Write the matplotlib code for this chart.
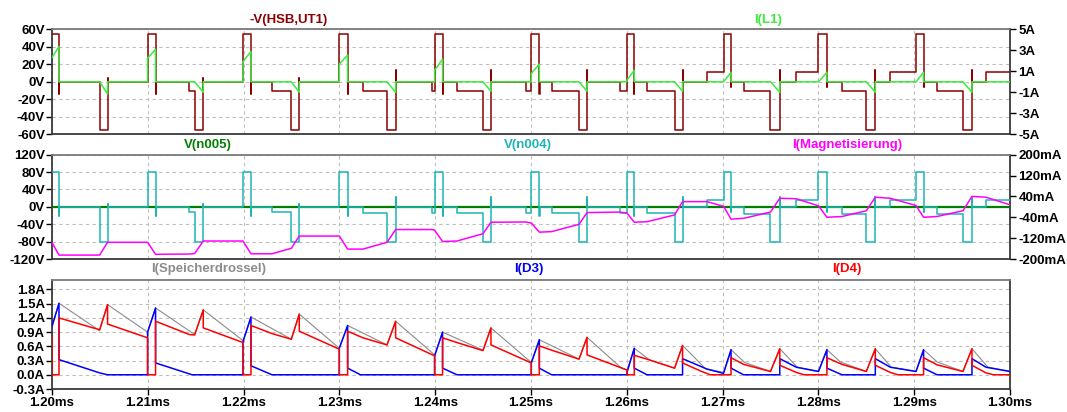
import numpy as np
import matplotlib
matplotlib.use("Agg")
import matplotlib.pyplot as plt

plt.rcParams.update({
    "font.family": ["Liberation Sans", "DejaVu Sans"],
    "font.weight": "bold",
    "font.size": 9.5,
    "axes.unicode_minus": False,
})

# ---------------------------------------------------------------- data
# times in microseconds after 1.20 ms
# switching edges shared by -V(HSB,UT1) and V(n004) (step traces)
sw_t = [0.00, 0.73, 0.75, 4.97, 5.80, 5.82,
        9.98, 10.81, 10.83, 14.33, 14.89, 15.79, 15.81,
        19.94, 20.77, 20.79, 22.96, 24.98, 25.81, 25.83,
        29.99, 30.86, 30.88, 32.46, 34.97, 35.87, 35.89,
        39.67, 39.94, 40.77, 40.79, 42.28, 44.99, 45.82, 45.84,
        49.44, 50.03, 50.87, 50.89, 52.15, 55.01, 55.85, 55.87,
        59.25, 60.02, 60.78, 60.80, 62.11, 64.99, 65.82, 65.84,
        68.37, 70.10, 70.88, 70.90, 72.19, 75.00, 75.97, 75.99,
        77.69, 80.01, 80.89, 80.91, 82.46, 85.00, 85.94, 85.96,
        87.50, 90.19, 90.98, 91.00, 92.38, 95.09, 96.03, 96.05,
        97.49, 100.0]
hsb_v = [55, -14, 0, -55, 4, 0,
         55, -14, 0, -10, -55, 4, 0,
         55, -14, 0, -10, -55, 4, 0,
         55, -14, 0, -10, -55, 13, 0,
         -10, 55, -14, 0, -10, -55, 13, 0,
         -10, 55, -14, 0, -10, -55, 13, 0,
         -10, 55, -14, 0, -10, -55, 13, 0,
         11, 55, -6, 0, -11, -55, 13, 0,
         11, 55, -6, 0, -11, -55, 13, 0,
         11, 55, -6, 0, -11, -55, 13, 0,
         11, 11]
n004_v = [80, -22, 0, -80, 6, 0,
          80, -22, 0, -12, -80, 6, 0,
          80, -22, 0, -12, -80, 6, 0,
          80, -22, 0, -14, -80, 22, 0,
          -14, 80, -22, 0, -15, -80, 22, 0,
          -15, 80, -22, 0, -15, -80, 22, 0,
          -15, 80, -22, 0, -15, -80, 22, 0,
          16, 80, -11, 0, -16, -80, 23, 0,
          16, 80, -11, 0, -16, -80, 23, 0,
          16, 80, -11, 0, -16, -80, 23, 0,
          16, 16]

n005 = [(0, 0.0), (100, 0.0)]

il1 = [(0, 2.3), (0.73, 3.36), (0.73, 0), (4.97, 0), (5.80, -1.17), (5.80, 0),
       (9.98, 0), (9.98, 2.25), (10.81, 3.1), (10.81, 0), (14.89, 0), (15.79, -1.0), (15.79, 0),
       (19.94, 0), (19.94, 1.93), (20.77, 2.89), (20.77, 0), (24.98, 0), (25.81, -1.0), (25.81, 0),
       (29.99, 0), (29.99, 1.69), (30.86, 2.54), (30.86, 0), (34.97, 0), (35.87, -1.0), (35.87, 0),
       (39.94, 0), (39.94, 1.1), (40.77, 2.15), (40.77, 0), (44.99, 0), (45.82, -0.9), (45.82, 0),
       (50.03, 0), (50.03, 0.8), (50.87, 1.69), (50.87, 0), (55.01, 0), (55.85, -0.9), (55.85, 0),
       (60.02, 0), (60.02, 0.16), (60.78, 1.1), (60.78, 0), (64.99, 0), (65.82, -0.9), (65.82, 0),
       (70.10, 0), (70.88, 0.9), (70.88, 0), (75.00, 0), (75.97, -1.0), (75.97, 0),
       (80.01, 0), (80.89, 0.9), (80.89, 0), (85.00, 0), (85.94, -1.0), (85.94, 0),
       (90.19, 0), (90.98, 0.9), (90.98, 0), (95.09, 0), (96.03, -1.0), (96.03, 0),
       (100, 0)]

# I(Magnetisierung) in mA
mag = [(0, -137), (0.73, -185), (4.97, -185), (5.80, -136),
       (9.98, -136), (10.81, -182), (14.33, -181), (14.89, -179), (15.79, -131),
       (19.94, -131), (20.77, -180), (22.96, -180), (24.98, -159), (25.81, -112),
       (29.99, -112), (30.86, -162), (32.46, -162), (34.97, -136), (35.87, -87),
       (39.67, -87), (39.94, -90), (40.77, -133), (42.28, -131), (44.99, -103), (45.82, -59),
       (49.44, -58), (50.03, -62), (50.87, -97), (52.15, -95), (55.01, -67), (55.85, -22),
       (59.25, -20), (60.02, -24), (60.78, -59), (62.11, -57), (64.99, -31), (65.82, 20),
       (68.37, 20), (70.10, 2), (70.88, -47), (72.19, -44), (75.00, -20), (75.97, 33),
       (77.69, 31), (80.01, 4), (80.89, -40), (82.46, -37), (85.00, -15), (85.94, 37),
       (87.50, 33), (90.19, 5), (90.98, -40), (92.38, -37), (95.09, -15), (96.03, 40),
       (97.49, 37), (100, 8)]

speicher = [(0, 1.02), (0.73, 1.51), (4.97, 0.93), (5.80, 1.48), (9.98, 0.90),
            (10.81, 1.41), (14.89, 0.85), (15.79, 1.37), (19.94, 0.72),
            (20.77, 1.22), (24.98, 0.75), (25.81, 1.28), (29.99, 0.56),
            (30.86, 1.04), (34.97, 0.63), (35.87, 1.13), (39.94, 0.42),
            (40.77, 0.90), (44.99, 0.52), (45.82, 0.99), (50.03, 0.26),
            (50.87, 0.74), (55.01, 0.33), (55.85, 0.79), (59.40, 0.15), (60.02, 0.10),
            (60.78, 0.56), (62.40, 0.31), (64.99, 0.14), (65.82, 0.62), (68.20, 0.13),
            (70.10, 0.05), (70.88, 0.53), (72.30, 0.26), (75.00, 0.07), (75.97, 0.55),
            (77.80, 0.16), (80.01, 0.07), (80.89, 0.53), (82.30, 0.27), (85.00, 0.07),
            (85.94, 0.55), (87.60, 0.16), (90.19, 0.07), (90.98, 0.53), (92.40, 0.27),
            (95.09, 0.07), (96.03, 0.55), (97.70, 0.16), (100, 0.07)]

d3 = [(0, 1.02), (0.73, 1.51), (0.73, 0.32), (4.97, 0.04), (5.80, 0.0), (9.98, 0.0),
      (9.98, 0.90), (10.81, 1.41), (10.81, 0.25), (14.33, 0.02), (14.6, 0.0), (19.94, 0.0),
      (19.94, 0.70), (20.77, 1.22), (20.77, 0.19), (22.96, 0.0), (29.99, 0.0),
      (29.99, 0.56), (30.86, 1.04), (30.86, 0.14), (32.2, 0.0), (39.94, 0.0),
      (39.94, 0.40), (40.77, 0.90), (40.77, 0.14), (42.28, 0.0), (50.03, 0.0),
      (50.03, 0.25), (50.87, 0.74), (50.87, 0.14), (52.15, 0.0), (60.02, 0.0),
      (60.02, 0.05), (60.78, 0.56), (60.78, 0.14), (62.11, 0.0), (65.82, 0.0),
      (65.82, 0.34), (68.37, 0.12), (70.10, 0.03), (70.88, 0.53), (70.88, 0.14),
      (72.19, 0.0), (75.97, 0.0),
      (75.97, 0.34), (77.69, 0.16), (80.01, 0.07), (80.89, 0.53), (80.89, 0.14),
      (82.46, 0.0), (85.94, 0.0),
      (85.94, 0.34), (87.50, 0.16), (90.19, 0.07), (90.98, 0.53), (90.98, 0.14),
      (92.38, 0.0), (96.03, 0.0),
      (96.03, 0.34), (97.49, 0.16), (100, 0.07)]

d4 = [(0, 0.80), (0, 0.0), (0.73, 0.0), (0.73, 1.20), (4.97, 0.95), (5.80, 1.48),
      (5.80, 1.07), (9.98, 0.78), (9.98, 0.0),
      (10.81, 0.0), (10.81, 1.13), (14.33, 0.85), (14.89, 0.84), (15.79, 1.37),
      (15.79, 0.99), (19.94, 0.68), (19.94, 0.0),
      (20.77, 0.0), (20.77, 1.04), (22.96, 0.87), (24.98, 0.75), (25.81, 1.28),
      (25.81, 0.92), (29.99, 0.54), (29.99, 0.0),
      (30.86, 0.0), (30.86, 0.92), (32.46, 0.78), (34.97, 0.63), (35.87, 1.13),
      (35.87, 0.78), (39.94, 0.40), (39.94, 0.0),
      (40.77, 0.0), (40.77, 0.78), (42.28, 0.68), (44.99, 0.51), (45.82, 0.99),
      (45.82, 0.63), (50.03, 0.25), (50.03, 0.0),
      (50.87, 0.0), (50.87, 0.61), (52.15, 0.52), (55.01, 0.33), (55.85, 0.79),
      (55.85, 0.42), (60.02, 0.10), (60.02, 0.0),
      (60.78, 0.0), (60.78, 0.41), (62.11, 0.33), (64.99, 0.14), (65.82, 0.62),
      (65.82, 0.25), (67.7, 0.08), (68.7, 0.0),
      (70.88, 0.0), (70.88, 0.36), (72.19, 0.22), (75.00, 0.07), (75.97, 0.55),
      (75.97, 0.20), (77.69, 0.05), (78.5, 0.0),
      (80.89, 0.0), (80.89, 0.36), (82.46, 0.22), (85.00, 0.07), (85.94, 0.55),
      (85.94, 0.20), (87.50, 0.05), (88.3, 0.0),
      (90.98, 0.0), (90.98, 0.36), (92.38, 0.21), (95.09, 0.07), (96.03, 0.55),
      (96.03, 0.20), (97.49, 0.04), (98.3, 0.0),
      (100, 0.0)]

x_ticks = [1.20, 1.21, 1.22, 1.23, 1.24, 1.25, 1.26, 1.27, 1.28, 1.29, 1.30]
p1_left = [-60, -40, -20, 0, 20, 40, 60]
p1_right = [-5, -3, -1, 1, 3, 5]
p2_left = [-120, -80, -40, 0, 40, 80, 120]
p2_right = [-200, -120, -40, 40, 120, 200]
p3_left = [-0.3, 0.0, 0.3, 0.6, 0.9, 1.2, 1.5, 1.8]

C_HSB, C_L1 = "#8B0000", "#3DEB3D"
C_N005, C_N004, C_MAG = "#008000", "#1EB4B4", "#FF00FF"
C_SP, C_D3, C_D4 = "#8C8C8C", "#0000FF", "#FF0000"


def xy(pairs):
    a = np.array(pairs, dtype=float)
    return 1.2 + a[:, 0] / 1000.0, a[:, 1]


W, H = 1067, 412
fig = plt.figure(figsize=(W / 100, H / 100), dpi=100)
L, Wd = 52 / W, 958 / W
ax1 = fig.add_axes([L, 1 - 134.3 / H, Wd, 105 / H])
ax2 = fig.add_axes([L, 1 - 259 / H, Wd, 104.3 / H])
ax3 = fig.add_axes([L, 1 - 389 / H, Wd, 109 / H])


def style(ax, show_x):
    ax.set_xlim(1.20, 1.30)
    ax.set_xticks(x_ticks)
    ax.grid(True, color="#BDBDBD", ls=(0, (3, 3)), lw=0.8)
    ax.set_axisbelow(True)
    for s in ax.spines.values():
        s.set_color("#3A3A3A")
        s.set_linewidth(1.3)
    ax.spines["top"].set_color("#7A7A7A")
    ax.tick_params(axis="y", direction="out", length=4, width=1, pad=1,
                   labelsize=9.5)
    if show_x:
        ax.set_xticklabels([f"{v:.2f}ms" for v in x_ticks])
        ax.tick_params(axis="x", direction="out", length=4, width=1, pad=2,
                       labelsize=9.5)
    else:
        ax.tick_params(axis="x", length=0, labelbottom=False)


def twin(ax, lim, ticks, labels):
    tw = ax.twinx()
    tw.set_ylim(*lim)
    tw.set_yticks(ticks)
    tw.set_yticklabels(labels)
    tw.tick_params(axis="y", direction="out", length=4, width=1, pad=2,
                   labelsize=9.5)
    for s in tw.spines.values():
        s.set_visible(False)
    return tw


# ---------------------------------------------------------------- panel 1
style(ax1, False)
ax1.set_ylim(-60, 60)
ax1.set_yticks(p1_left)
ax1.set_yticklabels([f"{v}V" for v in p1_left])
tw1 = twin(ax1, (-5, 5), p1_right, [f"{v}A" for v in p1_right])
ax1.plot(1.2 + np.array(sw_t) / 1000, hsb_v, drawstyle="steps-post",
         color=C_HSB, lw=1.1, zorder=3)
tw1.plot(*xy(il1), color=C_L1, lw=1.1, zorder=4)

# ---------------------------------------------------------------- panel 2
style(ax2, False)
ax2.set_ylim(-120, 120)
ax2.set_yticks(p2_left)
ax2.set_yticklabels([f"{v}V" for v in p2_left])
tw2 = twin(ax2, (-200, 200), p2_right, [f"{v}mA" for v in p2_right])
ax2.plot(*xy(n005), color=C_N005, lw=1.6, zorder=3)
ax2.plot(1.2 + np.array(sw_t) / 1000, n004_v, drawstyle="steps-post",
         color=C_N004, lw=1.1, zorder=4)
tw2.plot(*xy(mag), color=C_MAG, lw=1.1, zorder=5)

# ---------------------------------------------------------------- panel 3
style(ax3, True)
ax3.set_ylim(-0.3, 2.0)
ax3.set_yticks(p3_left)
ax3.set_yticklabels([f"{v:.1f}A" for v in p3_left])
ax3.plot(*xy(speicher), color=C_SP, lw=0.8, zorder=3)
ax3.plot(*xy(d3), color=C_D3, lw=1.1, zorder=4)
ax3.plot(*xy(d4), color=C_D4, lw=1.1, zorder=5)

# trace names above each pane
names = [
    ("-V(HSB,UT1)", 289, 20, C_HSB),
    ("I(L1)", 768, 20, C_L1),
    ("V(n005)", 208, 145, C_N005),
    ("V(n004)", 528, 145, C_N004),
    ("I(Magnetisierung)", 847, 145, C_MAG),
    ("I(Speicherdrossel)", 209, 269, C_SP),
    ("I(D3)", 529, 269, C_D3),
    ("I(D4)", 847, 269, C_D4),
]
for txt, x, y, c in names:
    fig.text(x / W, 1 - y / H, txt, color=c, ha="center", va="center",
             fontsize=9.5, fontweight="bold")

fig.savefig("out.png", dpi=100)
plt.close(fig)
